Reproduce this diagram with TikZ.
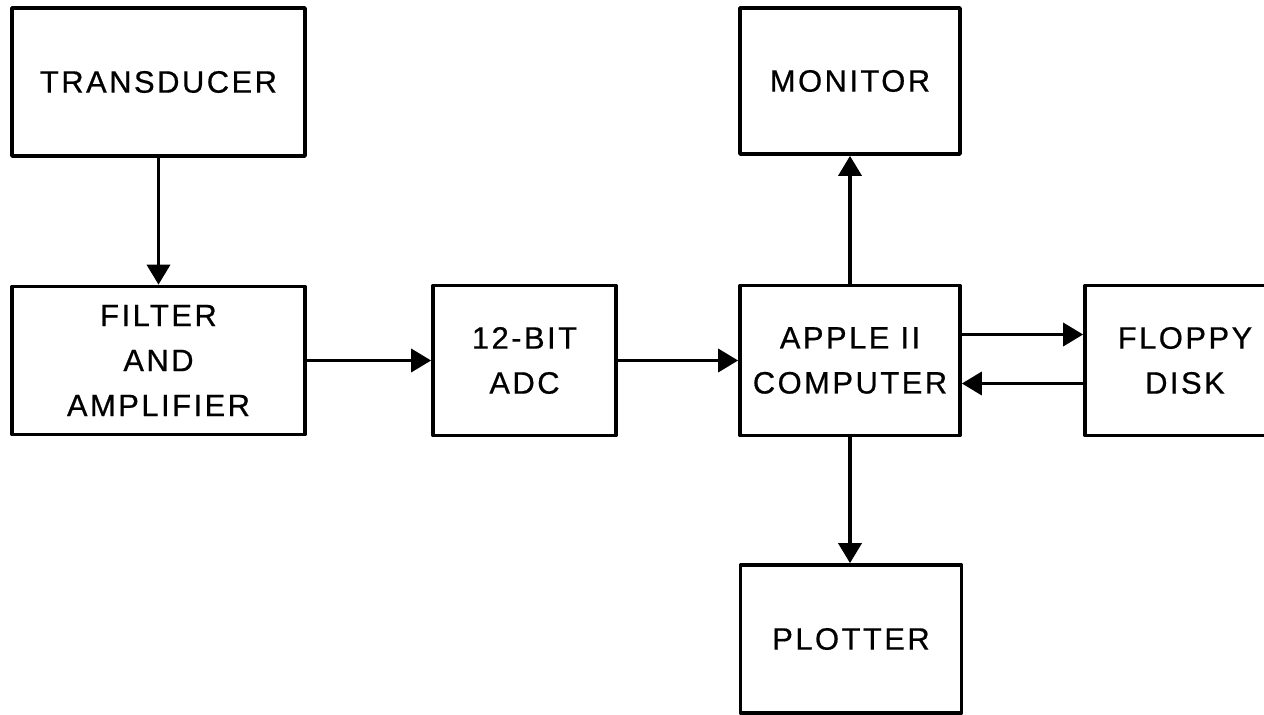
\documentclass[tikz,border=0pt]{standalone}
\usepackage{fontspec}
\setmainfont{Liberation Sans}[LetterSpace=8, FakeBold=0.6]
\usetikzlibrary{arrows.meta}

\begin{document}
\begin{tikzpicture}[
  line join=round,
  box/.style={draw, rectangle, line width=2.1pt, align=center, inner sep=0pt,
              font=\fontsize{17.6}{25.6}\selectfont},
  wide/.style={minimum width=5.86cm, minimum height=2.96cm},
  link/.style={line width=2pt, -{Triangle[length=0.4cm,width=0.46cm]}},
]
\useasboundingbox (0,0) rectangle (25.28,14.28);
\clip (0,0) rectangle (25.28,14.28);

% ── the signal chain, left to right ───────────────────────────────────────
\node[box, wide] (trans) at (3.17,12.64) {TRANSDUCER};
\node[box, wide] (filt) at (3.17,7.07) {FILTER\\AND\\AMPLIFIER};
\node[box, minimum width=3.66cm, minimum height=3cm] (adc) at (10.49,7.07) {12-BIT\\ADC};
\node[box, minimum width=4.4cm, minimum height=3cm] (comp) at (17.0,7.07) {APPLE II\\COMPUTER};

% ── what hangs off the computer ───────────────────────────────────────────
\node[box, minimum width=4.4cm, minimum height=2.92cm] (mon) at (17.0,12.66) {MONITOR};
\node[box, minimum width=4.42cm, minimum height=2.96cm] (plot) at (17.02,1.5) {PLOTTER};
% the disk box runs off the right edge
\node[box, minimum width=4cm, minimum height=3cm] (disk) at (23.7,7.07) {FLOPPY\\DISK};

% ── connectors ────────────────────────────────────────────────────────────
\draw[link] (trans) -- (filt);
\draw[link] (filt) -- (adc);
\draw[link] (adc) -- (comp);
\draw[link] (comp) -- (mon);
\draw[link] (comp.south) -- (plot.north -| comp.south);
\draw[link] ([yshift=0.52cm]comp.east) -- ([yshift=0.52cm]disk.west);
\draw[link] ([yshift=-0.46cm]disk.west) -- ([yshift=-0.46cm]comp.east);

\end{tikzpicture}
\end{document}
